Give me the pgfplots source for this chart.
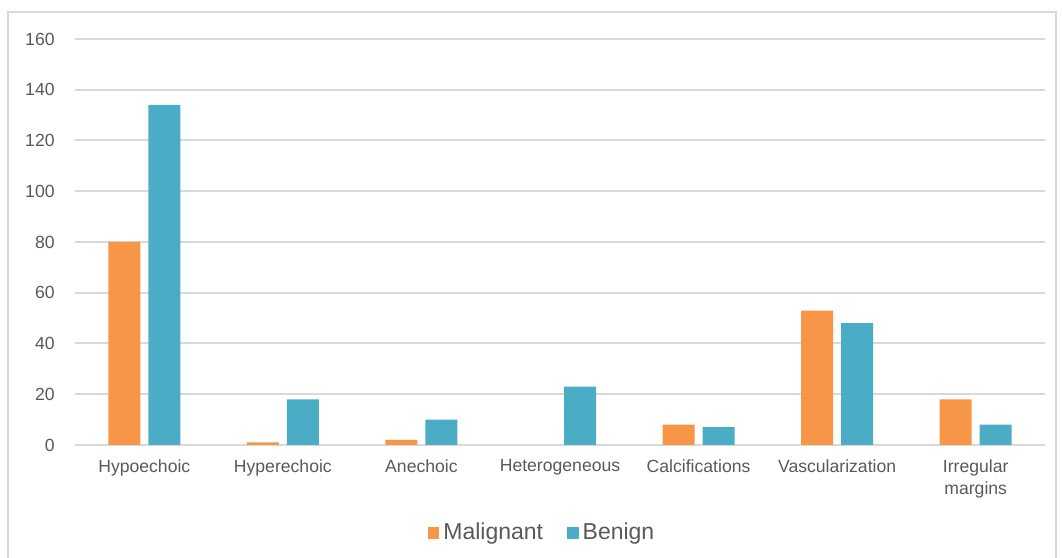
\documentclass[border=0pt]{standalone}
\usepackage{pgfplots}
\pgfplotsset{compat=1.18}
\usepackage{fontspec}
\setmainfont{Liberation Sans}
\definecolor{mal}{HTML}{F79646}
\definecolor{ben}{HTML}{4BACC6}
\definecolor{txt}{HTML}{595959}
\definecolor{gridc}{HTML}{D9D9D9}
\begin{document}
\begin{tikzpicture}
\useasboundingbox (0bp,0bp) rectangle (531bp,279bp);
\draw[gridc, line width=0.8bp] (4bp,-10bp) rectangle (528bp,273bp);
\begin{axis}[
  at={(37.5bp,56.5bp)}, anchor=south west,
  scale only axis, width=485bp, height=203bp,
  ymin=0, ymax=160, ytick={0,20,...,160},
  xmin=-0.5, xmax=6.5, xtick={0,...,6},
  xticklabels={Hypoechoic,Hyperechoic,Anechoic,Heterogeneous,Calcifications,Vascularization,{Irregular\\margins}},
  ybar=4bp, bar width=16bp,
  axis line style={draw=none},
  ymajorgrids, grid style={gridc, line width=1bp},
  major tick length=0pt, tick style={draw=none},
  /pgf/number format/assume math mode=true,
  tick label style={font=\fontsize{8.8bp}{11bp}\selectfont, text=txt},
  yticklabel style={anchor=east, inner sep=0pt, xshift=-10bp},
  xticklabel style={anchor=north, inner sep=0pt, yshift=-7bp, align=center},
  legend style={draw=none, fill=none, at={(0.4825,-0.2167)}, anchor=center,
    font=\fontsize{11.5bp}{13bp}\selectfont, text=txt,
    /tikz/every even column/.append style={column sep=10bp}},
  legend columns=2,
  legend image code/.code={\fill[#1] (0bp,-2.9bp) rectangle (5.8bp,2.9bp);},
]
\addplot[fill=mal, draw=none] coordinates {(0,80) (1,1) (2,2) (3,0) (4,8) (5,53) (6,18)};
\addplot[fill=ben, draw=none] coordinates {(0,134) (1,18) (2,10) (3,23) (4,7) (5,48) (6,8)};
\legend{Malignant,Benign}
\end{axis}
\end{tikzpicture}
\end{document}
